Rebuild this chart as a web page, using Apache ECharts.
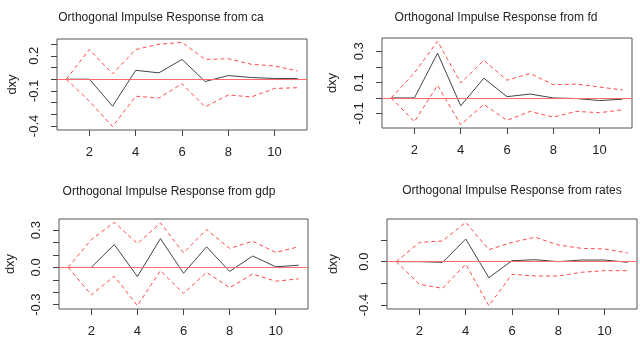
<!DOCTYPE html>
<html>
<head>
<meta charset="utf-8">
<script src="https://cdn.jsdelivr.net/npm/echarts@6/dist/echarts.min.js"></script>
<style>
html,body{margin:0;padding:0;background:#fff;}
#chart{width:640px;height:344px;}
</style>
</head>
<body>
<div id="chart"></div>
<script>
// ---- data ----
const horizon = [1, 2, 3, 4, 5, 6, 7, 8, 9, 10, 11];
const xTicks = [2, 4, 6, 8, 10];

const panelNames = ['ca', 'fd', 'gdp', 'rates'];

const caIrf   = [0, 0, -0.231, 0.076, 0.054, 0.169, -0.020, 0.031, 0.014, 0.006, 0.005];
const caUpper = [0, 0.254, 0.045, 0.254, 0.299, 0.315, 0.169, 0.175, 0.127, 0.113, 0.070];
const caLower = [0, -0.189, -0.406, -0.146, -0.161, -0.039, -0.237, -0.135, -0.152, -0.079, -0.073];

const fdIrf   = [0, 0, 0.288, -0.051, 0.127, 0.008, 0.025, 0.000, -0.004, -0.017, -0.008];
const fdUpper = [0, 0.161, 0.364, 0.097, 0.242, 0.114, 0.157, 0.085, 0.089, 0.070, 0.051];
const fdLower = [0, -0.153, 0.081, -0.172, -0.042, -0.144, -0.087, -0.123, -0.087, -0.095, -0.076];

const gdpIrf   = [0, 0, 0.184, -0.074, 0.232, -0.047, 0.166, -0.032, 0.092, 0.005, 0.018];
const gdpUpper = [0, 0.224, 0.363, 0.192, 0.358, 0.118, 0.305, 0.153, 0.211, 0.121, 0.166];
const gdpLower = [0, -0.221, -0.071, -0.308, -0.026, -0.211, -0.039, -0.163, -0.053, -0.111, -0.092];

const ratesIrf   = [0, 0, -0.006, 0.209, -0.148, 0.009, 0.018, 0.000, 0.015, 0.015, -0.006];
const ratesUpper = [0, 0.178, 0.191, 0.363, 0.111, 0.178, 0.225, 0.154, 0.123, 0.117, 0.080];
const ratesLower = [0, -0.209, -0.246, -0.022, -0.406, -0.117, -0.132, -0.132, -0.098, -0.083, -0.083];

const caYTicks = [-0.4, -0.3, -0.2, -0.1, 0, 0.1, 0.2, 0.3];
const caYLabels = [-0.4, -0.1, 0.2];
const fdYTicks = [-0.1, 0, 0.1, 0.2, 0.3];
const fdYLabels = [-0.1, 0.1, 0.3];
const gdpYTicks = [-0.3, -0.2, -0.1, 0, 0.1, 0.2, 0.3];
const gdpYLabels = [-0.3, 0, 0.3];
const ratesYTicks = [-0.4, -0.2, 0, 0.2];
const ratesYLabels = [-0.4, 0];

const yName = 'dxy';
const titlePrefix = 'Orthogonal Impulse Response from ';

// ---- layout (pixels) ----
const layout = [
  {l: 57,  r: 307, t: 39,  b: 130, tx: 161, ty: 17.5,  gap: 38},
  {l: 382, r: 632, t: 38,  b: 128, tx: 496, ty: 17.5,  gap: 43},
  {l: 59,  r: 308, t: 219, b: 309, tx: 169, ty: 191.5, gap: 42},
  {l: 387, r: 637, t: 219, b: 309, tx: 512, ty: 190.5, gap: 47}
];

const panels = [
  {irf: caIrf, up: caUpper, lo: caLower, ticks: caYTicks, labels: caYLabels},
  {irf: fdIrf, up: fdUpper, lo: fdLower, ticks: fdYTicks, labels: fdYLabels},
  {irf: gdpIrf, up: gdpUpper, lo: gdpLower, ticks: gdpYTicks, labels: gdpYLabels},
  {irf: ratesIrf, up: ratesUpper, lo: ratesLower, ticks: ratesYTicks, labels: ratesYLabels}
];

const FONT = '"Liberation Sans", Arial, sans-serif';
const grid = [], xAxis = [], yAxis = [], series = [], graphic = [];

const xs = Math.min(...horizon), xe = Math.max(...horizon);
const xPad = 0.04 * (xe - xs);
const xmin = xs - xPad, xmax = xe + xPad;

panels.forEach((pd, i) => {
  const p = layout[i];
  const W = p.r - p.l, H = p.b - p.t;
  const all = pd.irf.concat(pd.up, pd.lo);
  const lo = Math.min(...all), hi = Math.max(...all);
  const pad = 0.04 * (hi - lo);
  const ymin = lo - pad, ymax = hi + pad;
  const px = v => p.l + (v - xmin) / (xmax - xmin) * W;
  const py = v => p.t + (ymax - v) / (ymax - ymin) * H;

  const gA = grid.length;
  grid.push({left: p.l, top: p.t, width: W, height: H, show: true, borderColor: '#555', borderWidth: 1, containLabel: false, outerBoundsMode: 'none'});
  xAxis.push({gridIndex: gA, type: 'value', min: xmin, max: xmax, show: false});
  yAxis.push({gridIndex: gA, type: 'value', min: ymin, max: ymax,
    axisLine: {show: false}, axisTick: {show: false}, axisLabel: {show: false}, splitLine: {show: false},
    name: yName, nameLocation: 'middle', nameGap: p.gap, nameRotate: 90,
    nameTextStyle: {fontFamily: FONT, fontSize: 13, color: '#222'}});

  // R-style x axis spanning first to last tick
  const gB = grid.length;
  const x0 = px(xTicks[0]), x1 = px(xTicks[xTicks.length - 1]);
  grid.push({left: x0, top: p.t, width: x1 - x0, height: H, show: false, containLabel: false, outerBoundsMode: 'none'});
  xAxis.push({gridIndex: gB, type: 'value', min: xTicks[0], max: xTicks[xTicks.length - 1], position: 'bottom', offset: 0,
    axisLine: {show: false},
    axisTick: {show: true, length: 6, customValues: xTicks, lineStyle: {color: '#444'}},
    axisLabel: {show: true, customValues: xTicks, margin: 16, fontFamily: FONT, fontSize: 13, color: '#222'},
    splitLine: {show: false}});
  yAxis.push({gridIndex: gB, type: 'value', min: 0, max: 1, show: false});

  // R-style y axis spanning first to last tick
  const gC = grid.length;
  const tmin = pd.ticks[0], tmax = pd.ticks[pd.ticks.length - 1];
  const y0 = py(tmax), y1 = py(tmin);
  grid.push({left: p.l, top: y0, width: W, height: y1 - y0, show: false, containLabel: false, outerBoundsMode: 'none'});
  xAxis.push({gridIndex: gC, type: 'value', min: 0, max: 1, show: false});
  yAxis.push({gridIndex: gC, type: 'value', min: tmin, max: tmax, position: 'left', offset: 0,
    axisLine: {show: false},
    axisTick: {show: true, length: 6, customValues: pd.ticks, lineStyle: {color: '#444'}},
    axisLabel: {show: true, customValues: pd.labels, rotate: 90, margin: 16, fontFamily: FONT, fontSize: 13, color: '#222',
      formatter: v => Number(v).toFixed(1)},
    splitLine: {show: false}});

  const mk = arr => horizon.map((h, k) => [h, arr[k]]);
  series.push({type: 'line', xAxisIndex: gA, yAxisIndex: gA, data: mk(pd.irf), symbol: 'none',
    lineStyle: {color: '#444', width: 1}, z: 2, animation: false});
  series.push({type: 'line', xAxisIndex: gA, yAxisIndex: gA, data: mk(pd.up), symbol: 'none',
    lineStyle: {color: '#ff4a4a', width: 1, type: [4, 3]}, z: 3, animation: false});
  series.push({type: 'line', xAxisIndex: gA, yAxisIndex: gA, data: mk(pd.lo), symbol: 'none',
    lineStyle: {color: '#ff4a4a', width: 1, type: [4, 3]}, z: 3, animation: false,
    markLine: {silent: true, symbol: 'none', label: {show: false}, animation: false,
      lineStyle: {color: '#ff6a6a', type: 'solid', width: 1}, data: [{yAxis: 0}]}});

  graphic.push({type: 'text', x: p.tx, y: p.ty, style: {text: titlePrefix + panelNames[i],
    textAlign: 'center', textVerticalAlign: 'middle', font: '12px ' + FONT, fill: '#222'}});
});

const chart = echarts.init(document.getElementById('chart'), null, {renderer: 'canvas'});
chart.setOption({animation: false, grid, xAxis, yAxis, series, graphic});
</script>
</body>
</html>
